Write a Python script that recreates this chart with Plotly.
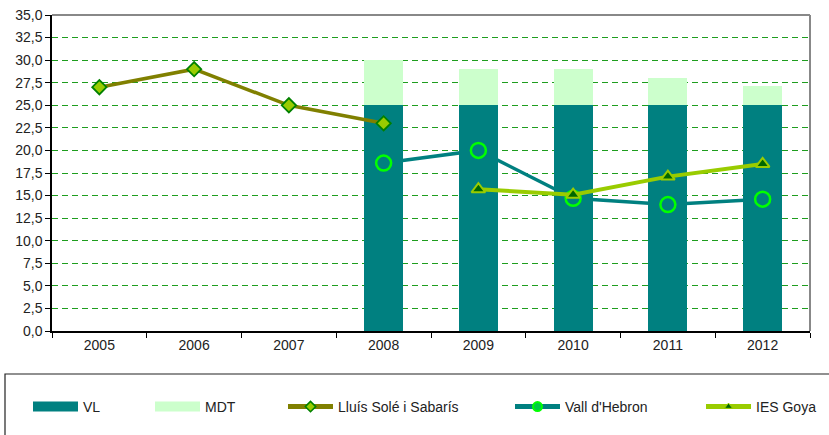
import plotly.graph_objects as go

# ---- data ----
years = ["2005", "2006", "2007", "2008", "2009", "2010", "2011", "2012"]
vl = [None, None, None, 25, 25, 25, 25, 25]
mdt = [None, None, None, 5.0, 4.0, 4.0, 3.0, 2.1]
lluis = [27.0, 29.0, 25.0, 23.0, None, None, None, None]
vall = [None, None, None, 18.6, 20.0, 14.7, 14.0, 14.6]
goya = [None, None, None, None, 15.7, 15.1, 17.1, 18.5]
y_ticks = [i * 2.5 for i in range(15)]

W, H = 829, 435
ML, MR, MT, MB = 52, 19, 15, 104
PW, PH = W - ML - MR, H - MT - MB

TEAL = "#008080"
MINT = "#CCFFCC"
OLIVE = "#808000"
LIME = "#99CC00"
FONT = "Liberation Sans, Arial, sans-serif"
TXT = "#222222"


def px_x(p):
    return (p - ML) / PW


def px_y(p):
    return (H - MB - p) / PH


fig = go.Figure()
fig.add_trace(go.Bar(x=years, y=vl, name="VL", marker=dict(color=TEAL, line=dict(width=0)),
                     width=0.41, showlegend=False))
fig.add_trace(go.Bar(x=years, y=mdt, name="MDT", marker=dict(color=MINT, line=dict(width=0)),
                     width=0.41, showlegend=False))
fig.add_trace(go.Scatter(x=years, y=lluis, name="Lluís Solé i Sabarís", mode="lines+markers",
                         line=dict(color=OLIVE, width=3.5),
                         marker=dict(symbol="diamond", size=11, color=LIME,
                                     line=dict(color="#008000", width=1.8)),
                         showlegend=False))
fig.add_trace(go.Scatter(x=years, y=vall, name="Vall d'Hebron", mode="lines+markers",
                         line=dict(color=TEAL, width=3.5),
                         marker=dict(symbol="circle-open", size=15, color="#00FF00",
                                     line=dict(width=2.5)),
                         showlegend=False))
fig.add_trace(go.Scatter(x=years, y=goya, name="IES Goya", mode="lines+markers",
                         line=dict(color=LIME, width=4),
                         marker=dict(symbol="triangle-up", size=12, color="#006600",
                                     line=dict(color=LIME, width=2)),
                         showlegend=False))

# legend entries (styled like the original legend keys)
fig.add_trace(go.Scatter(x=[None], y=[None], name="VL", mode="lines",
                         line=dict(color=TEAL, width=10), legend="legend"))
fig.add_trace(go.Scatter(x=[None], y=[None], name="MDT", mode="lines",
                         line=dict(color=MINT, width=10), legend="legend2"))
fig.add_trace(go.Scatter(x=[None], y=[None], name="Lluís Solé i Sabarís", mode="lines+markers",
                         line=dict(color=OLIVE, width=5),
                         marker=dict(symbol="diamond", size=8, color=LIME,
                                     line=dict(color="#008000", width=1.5)),
                         legend="legend3"))
fig.add_trace(go.Scatter(x=[None], y=[None], name="Vall d'Hebron", mode="lines+markers",
                         line=dict(color=TEAL, width=5),
                         marker=dict(symbol="circle", size=9, color="#00CC44",
                                     line=dict(color="#00FF00", width=2)),
                         legend="legend4"))
fig.add_trace(go.Scatter(x=[None], y=[None], name="IES Goya", mode="lines+markers",
                         line=dict(color=LIME, width=5),
                         marker=dict(symbol="triangle-up", size=7, color="#006600",
                                     line=dict(color=LIME, width=1)),
                         legend="legend5"))


def leg(xpx):
    return dict(x=px_x(xpx), y=px_y(407), xref="paper", yref="paper",
                xanchor="left", yanchor="middle", bgcolor="rgba(0,0,0,0)",
                font=dict(family=FONT, size=14, color=TXT), itemwidth=45,
                orientation="h")


fig.update_layout(
    width=W, height=H,
    margin=dict(l=ML, r=MR, t=MT, b=MB, autoexpand=False),
    paper_bgcolor="white", plot_bgcolor="white",
    barmode="stack", bargap=0.59,
    separators=", ",
    font=dict(family=FONT, size=14, color=TXT),
    legend=leg(28), legend2=leg(150), legend3=leg(283), legend4=leg(510), legend5=leg(701),
    xaxis=dict(type="category", tickson="boundaries", ticks="outside", ticklen=5,
               tickcolor="black", showline=True, linecolor="black", linewidth=1.5,
               showgrid=False, tickfont=dict(size=14, color=TXT), range=[-0.5, 7.5],
               automargin=False),
    yaxis=dict(range=[0, 35], tickvals=y_ticks, tickformat=".1f", ticks="outside", ticklen=5,
               tickcolor="black", showline=True, linecolor="black", linewidth=1.5,
               showgrid=True, gridcolor="#1E9E1E", gridwidth=1, griddash="6px,4px",
               zeroline=False, tickfont=dict(size=14, color=TXT), automargin=False),
    shapes=[
        dict(type="line", xref="paper", yref="paper", x0=0, x1=1, y0=1, y1=1,
             line=dict(color="#888888", width=2)),
        dict(type="line", xref="paper", yref="paper", x0=1, x1=1, y0=0, y1=1,
             line=dict(color="#888888", width=2)),
        dict(type="rect", xref="paper", yref="paper", x0=px_x(5), x1=px_x(W + 10),
             y0=px_y(H + 10), y1=px_y(374), line=dict(color="#222222", width=1.2),
             fillcolor="rgba(0,0,0,0)"),
    ],
)

fig.write_html("out.html", config={"displayModeBar": False},
               post_script="document.body.style.margin='0';")
